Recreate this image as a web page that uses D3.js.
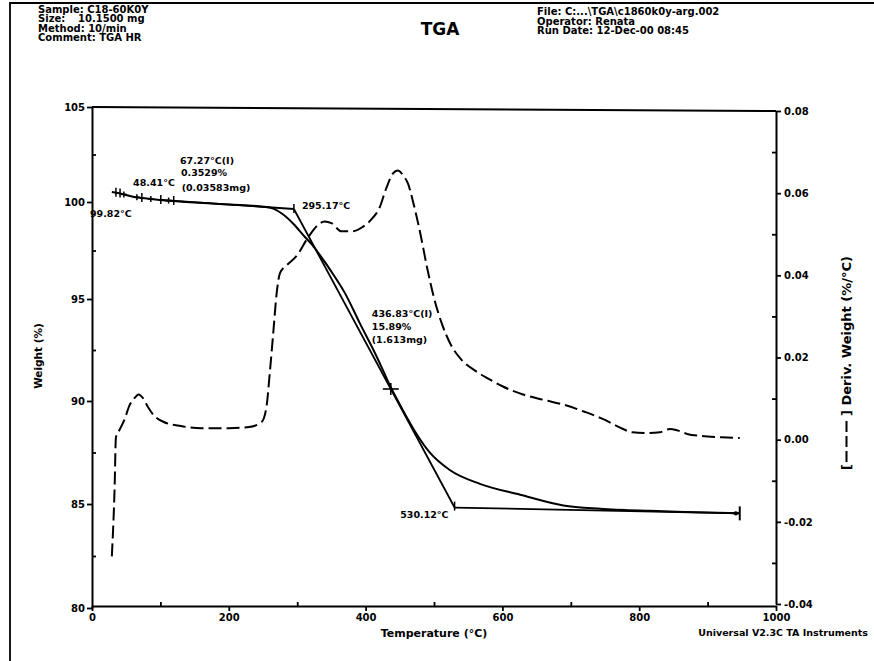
<!DOCTYPE html>
<html>
<head>
<meta charset="utf-8">
<script src="https://cdn.jsdelivr.net/npm/d3@7"></script>
<style>
  body { margin: 0; background: #fff; }
  svg text { font-family: "DejaVu Sans", "Liberation Sans", Arial, sans-serif; font-weight: bold; fill: #000; }
</style>
</head>
<body>
<svg id="chart" width="874" height="661"></svg>
<script>
// ---- axis ticks ----
const tempTicks = [0, 200, 400, 600, 800, 1000];
const tempMinor = [100, 300, 500, 700, 900];
const weightTicks = [80, 85, 90, 95, 100, 105];
const weightMinor = [82.5, 87.5, 92.5, 97.5, 102.5];
const derivTicks = [-0.04, -0.02, 0, 0.02, 0.04, 0.06, 0.08];
const derivMinor = [-0.03, -0.01, 0.01, 0.03, 0.05, 0.07];

// ---- weight curve (%), solid ----
const weightTemp = [29, 40, 60, 80, 100, 150, 200, 250, 265, 280, 295, 311, 322, 333, 350, 370, 392, 414, 425, 437, 450, 462, 472, 494, 523, 567, 626, 689, 743, 816, 868, 947];
const weightPct  = [100.53, 100.46, 100.28, 100.18, 100.11, 99.97, 99.87, 99.76, 99.66, 99.34, 98.85, 98.21, 97.79, 97.27, 96.41, 95.29, 93.78, 92.33, 91.54, 90.66, 89.83, 89.1, 88.53, 87.49, 86.65, 85.98, 85.45, 84.93, 84.77, 84.67, 84.62, 84.55];

// ---- derivative weight curve (%/°C), dashed ----
const derivTemp = [29, 33, 35, 40, 47, 55, 63, 68, 75, 82, 90, 105, 130, 160, 200, 230, 248, 255, 260, 265, 270, 275, 285, 300, 315, 330, 340, 350, 365, 380, 395, 410, 420, 430, 440, 447, 455, 462, 470, 480, 490, 500, 512, 525, 540, 560, 580, 600, 630, 660, 690, 720, 750, 770, 790, 810, 830, 845, 855, 870, 890, 920, 947];
const derivRate  = [-0.0284, -0.012, 0.0006, 0.0023, 0.0047, 0.0084, 0.0103, 0.011, 0.010, 0.0079, 0.0060, 0.0043, 0.0033, 0.0028, 0.0028, 0.0031, 0.0043, 0.0079, 0.0164, 0.026, 0.0357, 0.0406, 0.0425, 0.0449, 0.049, 0.0522, 0.0531, 0.0527, 0.0507, 0.0507, 0.0517, 0.0539, 0.0563, 0.0611, 0.0648, 0.0655, 0.0643, 0.0623, 0.0575, 0.0502, 0.0418, 0.0345, 0.028, 0.023, 0.0195, 0.0168, 0.0148, 0.013, 0.011, 0.0097, 0.0085, 0.0068, 0.0048, 0.0031, 0.0018, 0.0016, 0.0018, 0.0026, 0.0023, 0.0014, 0.0009, 0.0006, 0.0004];

// ---- step analysis (onset / inflection / endset) ----
const onsetTemp = 295.17, onsetWeight = 99.64;
const endsetTemp = 530.12, endsetWeight = 84.83;
const inflTemp = 436.83;
const endBaseTemp = 947, endBaseWeight = 84.55;
const startBaseTemp = 100;
const stepPct = 15.89, stepMg = 1.613;
const earlyInflTemp = 67.27, earlyPct = 0.3529, earlyMg = 0.03583;
const cursorTemp = 48.41, startLabelTemp = 99.82;
const cursorTicks = [35, 41, 72.9, 100.6, 119.5];
const cursorCrosses = [46.6, 65.6, 86, 112];

// ---- header text ----
const sampleInfo = ["Sample: C18-60K0Y", "Size:", "Method: 10/min", "Comment: TGA HR"];
const sizeValue = "10.1500 mg";
const runInfo = ["File: C:...\\TGA\\c1860k0y-arg.002", "Operator: Renata", "Run Date: 12-Dec-00 08:45"];

const svg = d3.select("#chart");
// plot box: left/right axis positions, and the top/bottom of each vertical axis
const pL = 92, pR = 776;
const leftTickY = [608, 504, 401, 299, 202, 107];   // screen rows of 80..105 on the chart paper
const rightTop = 111, rightBottom = 604;
const xAxisY = 606;

const x = d3.scaleLinear().domain([0, 1000]).range([pL, pR]);
const yW = d3.scaleLinear().domain(weightTicks).range(leftTickY);
const yD = d3.scaleLinear().domain([-0.04, 0.08]).range([rightBottom, rightTop]);

const g = svg.append("g");

// page frame (top and left edges)
g.append("path").attr("d", "M10,661 L10,3 L874,3")
  .attr("fill", "none").attr("stroke", "#000").attr("stroke-width", 1.8);

// header
const hdr = g.append("g");
sampleInfo.forEach((s, i) => {
  hdr.append("text").attr("x", 38).attr("y", 12.5 + i * 9.5).attr("font-size", 10).text(s);
});
hdr.append("text").attr("x", 78).attr("y", 12.5 + 9.5).attr("font-size", 10).text(sizeValue);
runInfo.forEach((s, i) => {
  hdr.append("text").attr("x", 537).attr("y", 15 + i * 9.5).attr("font-size", 10).text(s);
});
g.append("text").attr("x", 440).attr("y", 35).attr("text-anchor", "middle")
  .attr("font-size", 17).text("TGA");

// plot frame top edge
g.append("line").attr("x1", pL).attr("x2", pR).attr("y1", yW(105)).attr("y2", yD(0.08))
  .attr("stroke", "#000").attr("stroke-width", 2);

function styleAxis(sel, fs) {
  sel.attr("font-family", null).attr("font-size", null);
  sel.selectAll("path.domain").attr("stroke", "#000").attr("stroke-width", 2);
  sel.selectAll(".tick line").attr("stroke", "#000").attr("stroke-width", 1.8);
  sel.selectAll(".tick text").attr("font-size", fs).attr("fill", "#000");
}

// bottom axis
const xa = g.append("g").attr("transform", `translate(0,${xAxisY})`)
  .call(d3.axisBottom(x).tickValues(tempTicks).tickSize(5).tickSizeOuter(0).tickPadding(3).tickFormat(d3.format("d")));
styleAxis(xa, 10);
const xm = g.append("g").attr("transform", `translate(0,${xAxisY})`)
  .call(d3.axisBottom(x).tickValues(tempMinor).tickSize(-4).tickFormat(""));
xm.select("path.domain").remove(); styleAxis(xm, 10);

// left axis
const ya = g.append("g").attr("transform", `translate(${pL},0)`)
  .call(d3.axisLeft(yW).tickValues(weightTicks).tickSize(5).tickSizeOuter(0).tickPadding(2).tickFormat(d3.format("d")));
styleAxis(ya, 10);
const ym = g.append("g").attr("transform", `translate(${pL},0)`)
  .call(d3.axisLeft(yW).tickValues(weightMinor).tickSize(-4).tickFormat(""));
ym.select("path.domain").remove(); styleAxis(ym, 10);

// right axis
const ra = g.append("g").attr("transform", `translate(${pR},0)`)
  .call(d3.axisRight(yD).tickValues(derivTicks).tickSize(5).tickSizeOuter(0).tickPadding(3).tickFormat(d => d.toFixed(2)));
styleAxis(ra, 10);
const rm = g.append("g").attr("transform", `translate(${pR},0)`)
  .call(d3.axisRight(yD).tickValues(derivMinor).tickSize(-4).tickFormat(""));
rm.select("path.domain").remove(); styleAxis(rm, 10);

// axis titles
g.append("text").attr("x", (pL + pR) / 2).attr("y", 637).attr("text-anchor", "middle")
  .attr("font-size", 11).text("Temperature (°C)");
g.append("text").attr("transform", "translate(42,356) rotate(-90)")
  .attr("text-anchor", "middle").attr("font-size", 10.5).text("Weight (%)");
g.append("text").attr("x", 868).attr("y", 636).attr("text-anchor", "end")
  .attr("font-size", 9.5).text("Universal V2.3C TA Instruments");

// right title with dashed-line key
const rt = g.append("g").attr("transform", "translate(851,360) rotate(-90)");
rt.append("text").attr("x", -110).attr("y", 0).attr("font-size", 13).text("[");
rt.append("line").attr("x1", -102).attr("x2", -58).attr("y1", -4.5).attr("y2", -4.5)
  .attr("stroke", "#000").attr("stroke-width", 2).attr("stroke-dasharray", "11,4");
rt.append("text").attr("x", -56).attr("y", 0).attr("font-size", 13).text("] Deriv. Weight (%/°C)");

// derivative curve
const derivLine = d3.line().x(d => x(d[0])).y(d => yD(d[1])).curve(d3.curveMonotoneX);
g.append("path").datum(d3.zip(derivTemp, derivRate)).attr("d", derivLine)
  .attr("fill", "none").attr("stroke", "#000").attr("stroke-width", 2).attr("stroke-dasharray", "13,5");

// weight curve
const weightLine = d3.line().x(d => x(d[0])).y(d => yW(d[1])).curve(d3.curveMonotoneX);
g.append("path").datum(d3.zip(weightTemp, weightPct)).attr("d", weightLine)
  .attr("fill", "none").attr("stroke", "#000").attr("stroke-width", 2);

// weight value along the curve
function weightAt(t) {
  const i = d3.bisectLeft(weightTemp, t);
  if (i <= 0) return weightPct[0];
  const t0 = weightTemp[i - 1], t1 = weightTemp[i];
  return weightPct[i - 1] + (weightPct[i] - weightPct[i - 1]) * (t - t0) / (t1 - t0);
}

// baselines and tangent
const ann = g.append("g").attr("stroke", "#000").attr("fill", "none");
ann.append("line").attr("x1", x(startBaseTemp)).attr("y1", yW(weightAt(startBaseTemp)))
  .attr("x2", x(onsetTemp)).attr("y2", yW(onsetWeight)).attr("stroke-width", 1.8);
ann.append("line").attr("x1", x(onsetTemp)).attr("y1", yW(onsetWeight))
  .attr("x2", x(endsetTemp)).attr("y2", yW(endsetWeight)).attr("stroke-width", 1.8);
ann.append("line").attr("x1", x(endsetTemp)).attr("y1", yW(endsetWeight))
  .attr("x2", x(endBaseTemp)).attr("y2", yW(endBaseWeight)).attr("stroke-width", 1.8);
// onset / endset markers
ann.append("line").attr("x1", x(onsetTemp)).attr("x2", x(onsetTemp))
  .attr("y1", yW(onsetWeight) - 5).attr("y2", yW(onsetWeight) + 4).attr("stroke-width", 1.5);
ann.append("line").attr("x1", x(endsetTemp)).attr("x2", x(endsetTemp))
  .attr("y1", yW(endsetWeight) - 6).attr("y2", yW(endsetWeight) + 3).attr("stroke-width", 1.5);
// end limit bar
ann.append("line").attr("x1", x(endBaseTemp)).attr("x2", x(endBaseTemp))
  .attr("y1", yW(endBaseWeight) - 7).attr("y2", yW(endBaseWeight) + 7).attr("stroke-width", 2);
ann.append("circle").attr("cx", x(endBaseTemp) - 4).attr("cy", yW(endBaseWeight)).attr("r", 2.2)
  .attr("fill", "#000").attr("stroke", "none");
// inflection cross, on the tangent line
const frac = (inflTemp - onsetTemp) / (endsetTemp - onsetTemp);
const inflX = x(inflTemp);
const inflY = yW(onsetWeight) + (yW(endsetWeight) - yW(onsetWeight)) * frac;
ann.append("line").attr("x1", inflX - 8).attr("x2", inflX + 8)
  .attr("y1", inflY).attr("y2", inflY).attr("stroke-width", 1.6);
ann.append("line").attr("x1", inflX).attr("x2", inflX)
  .attr("y1", inflY - 6).attr("y2", inflY + 6).attr("stroke-width", 1.6);
// cursor marks on the initial plateau
cursorTicks.forEach(t => {
  const yy = yW(weightAt(t));
  ann.append("line").attr("x1", x(t)).attr("x2", x(t)).attr("y1", yy - 5).attr("y2", yy + 4).attr("stroke-width", 1.5);
});
cursorCrosses.forEach(t => {
  const yy = yW(weightAt(t));
  ann.append("line").attr("x1", x(t) - 3).attr("x2", x(t) + 3).attr("y1", yy).attr("y2", yy).attr("stroke-width", 1.5);
  ann.append("line").attr("x1", x(t)).attr("x2", x(t)).attr("y1", yy - 3).attr("y2", yy + 3).attr("stroke-width", 1.5);
});

// annotation labels
const lab = g.append("g");
function label(txt, px, py, anchor) {
  lab.append("text").attr("x", px).attr("y", py).attr("text-anchor", anchor || "start").attr("font-size", 9.5).text(txt);
}
const earlyY = yW(weightAt(earlyInflTemp));
label(`${earlyInflTemp.toFixed(2)}°C(I)`, x(earlyInflTemp) + 69, earlyY - 33, "middle");
label(`${earlyPct.toFixed(4)}%`, x(earlyInflTemp) + 66, earlyY - 21, "middle");
label(`${cursorTemp.toFixed(2)}°C`, x(cursorTemp) + 8, yW(weightAt(cursorTemp)) - 9, "start");
label(`(${earlyMg.toFixed(5)}mg)`, x(earlyInflTemp) + 78, earlyY - 6, "middle");
label(`${startLabelTemp.toFixed(2)}°C`, pL - 2, yW(onsetWeight) + 8, "start");
label(`${onsetTemp.toFixed(2)}°C`, x(onsetTemp) + 8, yW(onsetWeight), "start");
label(`${inflTemp.toFixed(2)}°C(I)`, inflX - 19, inflY - 72, "start");
label(`${stepPct.toFixed(2)}%`, inflX - 19, inflY - 59, "start");
label(`(${stepMg.toFixed(3)}mg)`, inflX - 19, inflY - 46, "start");
label(`${endsetTemp.toFixed(2)}°C`, x(endsetTemp) - 6, yW(endsetWeight) + 10, "end");
</script>
</body>
</html>
